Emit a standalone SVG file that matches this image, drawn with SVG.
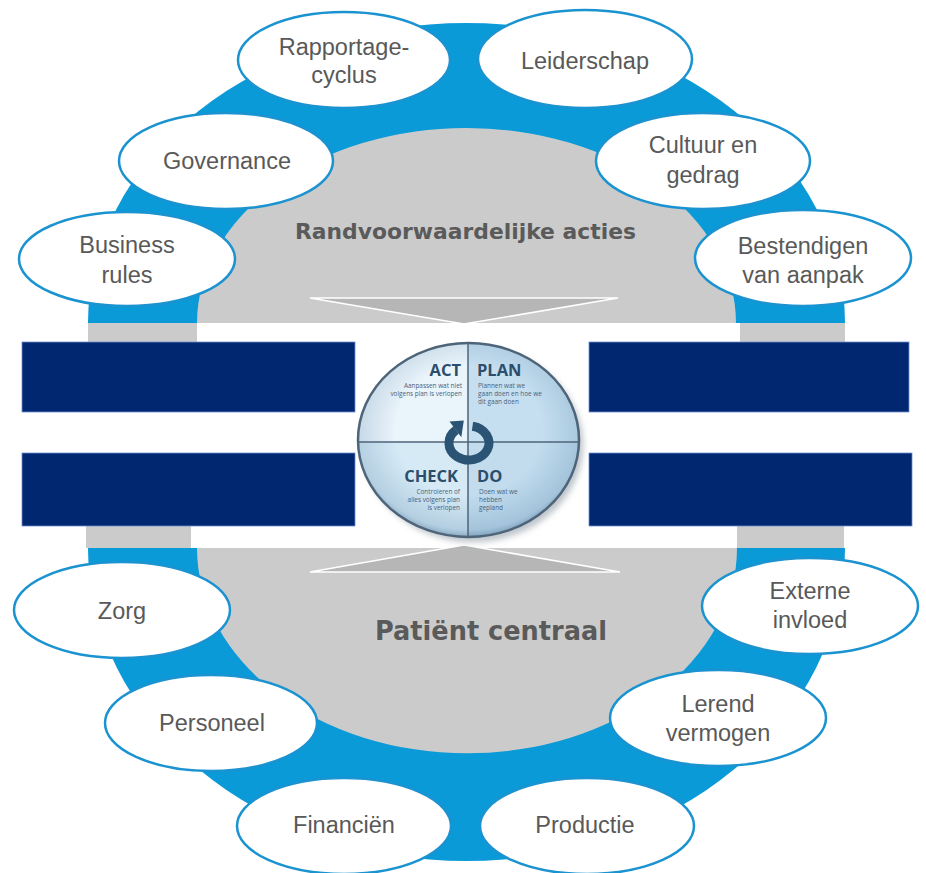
<svg xmlns="http://www.w3.org/2000/svg" width="926" height="873" viewBox="0 0 926 873">
  <defs>
    <style>
      .ring { fill: #0a9ad7; }
      .gray { fill: #cbcbcb; }
      .tri { fill: #b6b6b6; stroke: #ffffff; stroke-width: 1.6; stroke-linejoin: miter; }
      .bar { fill: #022771; stroke: #6d8fd3; stroke-width: 0.8; }
      .node-shape { fill: #ffffff; stroke: #1a93d0; stroke-width: 2.5; }
      .lbl { font-family: "Liberation Sans", Arial, sans-serif; font-size: 23.5px; fill: #595959; text-anchor: middle; }
      .head { font-family: "DejaVu Sans", Verdana, sans-serif; font-weight: bold; fill: #5a5a5a; text-anchor: middle; }
      .pd { font-family: "Open Sans", "Liberation Sans", sans-serif; font-weight: bold; font-size: 16.5px; fill: #2d4e6b; }
      .pds { font-family: "Open Sans", "Liberation Sans", sans-serif; font-size: 6.4px; fill: #46627c; }
      .div { stroke: #4e6479; stroke-width: 1.5; fill: none; }
    </style>
    <radialGradient id="shade" cx="0.5" cy="0.45" r="0.55">
      <stop offset="0.6" stop-color="#3b6f98" stop-opacity="0"/>
      <stop offset="0.93" stop-color="#3b6f98" stop-opacity="0.22"/>
      <stop offset="1" stop-color="#2f5a80" stop-opacity="0.45"/>
    </radialGradient>
    <clipPath id="pdcaClip">
      <ellipse cx="468.5" cy="440" rx="110.5" ry="97"/>
    </clipPath>
    <filter id="shadow" x="-20%" y="-20%" width="140%" height="140%">
      <feGaussianBlur stdDeviation="3"/>
    </filter>
  </defs>

  <rect x="0" y="0" width="926" height="873" fill="#ffffff"/>

  <!-- top half background -->
  <g id="top-area">
    <path class="ring" d="M 88 323 A 378.5 300 0 0 1 845 323 Z"/>
    <path class="gray" d="M 197 323 A 269.5 195 0 0 1 736 323 Z"/>
    <rect class="gray" x="88" y="323" width="109" height="19"/>
    <rect class="gray" x="740" y="323" width="105" height="19"/>
    <polygon class="tri" points="310,298 618,298 464,324"/>
    <text class="head" x="465.5" y="239" font-size="22" textLength="341" lengthAdjust="spacingAndGlyphs">Randvoorwaardelijke acties</text>
  </g>

  <!-- bottom half background -->
  <g id="bottom-area">
    <path class="ring" d="M 88 548 A 378.5 313 0 0 0 845 548 Z"/>
    <path class="gray" d="M 197 548 A 269.5 205 0 0 0 737 548 Z"/>
    <rect class="gray" x="86" y="526" width="105" height="22"/>
    <rect class="gray" x="737" y="526" width="107" height="22"/>
    <polygon class="tri" points="310,572 620,572 464,545"/>
    <text class="head" x="491" y="640" font-size="25.7" textLength="232" lengthAdjust="spacingAndGlyphs">Patiënt centraal</text>
  </g>

  <!-- bars -->
  <g id="bars">
    <rect class="bar" x="22" y="342" width="333" height="70"/>
    <rect class="bar" x="22" y="453" width="333" height="73"/>
    <rect class="bar" x="589" y="342" width="320" height="70"/>
    <rect class="bar" x="589" y="453" width="323" height="73"/>
  </g>

  <!-- PDCA cycle -->
  <g id="pdca">
    <ellipse cx="473" cy="445" rx="110" ry="97" fill="#6b7a88" opacity="0.45" filter="url(#shadow)"/>
    <g clip-path="url(#pdcaClip)">
      <rect x="358" y="343" width="110" height="99" fill="#eaf4fb"/>
      <rect x="468" y="343" width="111" height="99" fill="#c6dff0"/>
      <rect x="358" y="442" width="110" height="95" fill="#d6eaf6"/>
      <rect x="468" y="442" width="111" height="95" fill="#c2dcee"/>
      <ellipse cx="468.5" cy="440" rx="110.5" ry="97" fill="url(#shade)"/>
    </g>
    <line class="div" x1="468" y1="343" x2="468" y2="537"/>
    <line class="div" x1="358" y1="442" x2="579" y2="442"/>
    <ellipse cx="468.5" cy="440" rx="110.5" ry="97" fill="none" stroke="#4e6479" stroke-width="2.5"/>

    <text class="pd" x="461" y="376" text-anchor="end">ACT</text>
    <text class="pds" text-anchor="end"><tspan x="462" y="388">Aanpassen wat niet</tspan><tspan x="462" y="396">volgens plan is verlopen</tspan></text>
    <text class="pd" x="477" y="376">PLAN</text>
    <text class="pds"><tspan x="478" y="388">Plannen wat we</tspan><tspan x="478" y="396">gaan doen en hoe we</tspan><tspan x="478" y="404">dit gaan doen</tspan></text>
    <text class="pd" x="458" y="482" text-anchor="end">CHECK</text>
    <text class="pds" text-anchor="end"><tspan x="460" y="494">Controleren of</tspan><tspan x="460" y="502">alles volgens plan</tspan><tspan x="460" y="510">is verlopen</tspan></text>
    <text class="pd" x="477" y="482">DO</text>
    <text class="pds"><tspan x="479" y="494">Doen wat we</tspan><tspan x="479" y="502">hebben</tspan><tspan x="479" y="510">gepland</tspan></text>

    <path d="M 472.5 426.3 A 20 17 0 1 1 456.1 430" fill="none" stroke="#2b5474" stroke-width="9"/>
    <polygon points="463.8,420.5 461.3,437.3 449.5,421.5" fill="#2b5474"/>
  </g>

  <g id="connectors"></g>

  <!-- nodes -->
  <g id="node-rapportage">
    <ellipse class="node-shape" cx="344" cy="60" rx="106" ry="48"/>
    <text class="lbl"><tspan x="344" y="55">Rapportage-</tspan><tspan x="344" y="83">cyclus</tspan></text>
  </g>
  <g id="node-leiderschap">
    <ellipse class="node-shape" cx="585" cy="59" rx="107" ry="49"/>
    <text class="lbl" x="585" y="69">Leiderschap</text>
  </g>
  <g id="node-governance">
    <ellipse class="node-shape" cx="226" cy="161" rx="107" ry="48"/>
    <text class="lbl" x="227" y="169">Governance</text>
  </g>
  <g id="node-cultuur">
    <ellipse class="node-shape" cx="703" cy="161" rx="107" ry="48"/>
    <text class="lbl"><tspan x="703" y="153">Cultuur en</tspan><tspan x="703" y="183">gedrag</tspan></text>
  </g>
  <g id="node-business">
    <ellipse class="node-shape" cx="127" cy="259" rx="108" ry="47"/>
    <text class="lbl"><tspan x="127" y="253">Business</tspan><tspan x="127" y="283">rules</tspan></text>
  </g>
  <g id="node-bestendigen">
    <ellipse class="node-shape" cx="803" cy="258" rx="108" ry="48"/>
    <text class="lbl"><tspan x="803" y="254">Bestendigen</tspan><tspan x="803" y="283">van aanpak</tspan></text>
  </g>
  <g id="node-zorg">
    <ellipse class="node-shape" cx="122" cy="610" rx="108" ry="48"/>
    <text class="lbl" x="122" y="619">Zorg</text>
  </g>
  <g id="node-externe">
    <ellipse class="node-shape" cx="810" cy="606" rx="108" ry="48"/>
    <text class="lbl"><tspan x="810" y="599">Externe</tspan><tspan x="810" y="628">invloed</tspan></text>
  </g>
  <g id="node-personeel">
    <ellipse class="node-shape" cx="211" cy="723" rx="106" ry="48"/>
    <text class="lbl" x="212" y="731">Personeel</text>
  </g>
  <g id="node-lerend">
    <ellipse class="node-shape" cx="718" cy="718" rx="108" ry="48"/>
    <text class="lbl"><tspan x="718" y="712">Lerend</tspan><tspan x="718" y="741">vermogen</tspan></text>
  </g>
  <g id="node-financien">
    <ellipse class="node-shape" cx="344" cy="826" rx="107" ry="48"/>
    <text class="lbl" x="344" y="833">Financiën</text>
  </g>
  <g id="node-productie">
    <ellipse class="node-shape" cx="587" cy="826" rx="107" ry="48"/>
    <text class="lbl" x="585" y="833">Productie</text>
  </g>
</svg>
